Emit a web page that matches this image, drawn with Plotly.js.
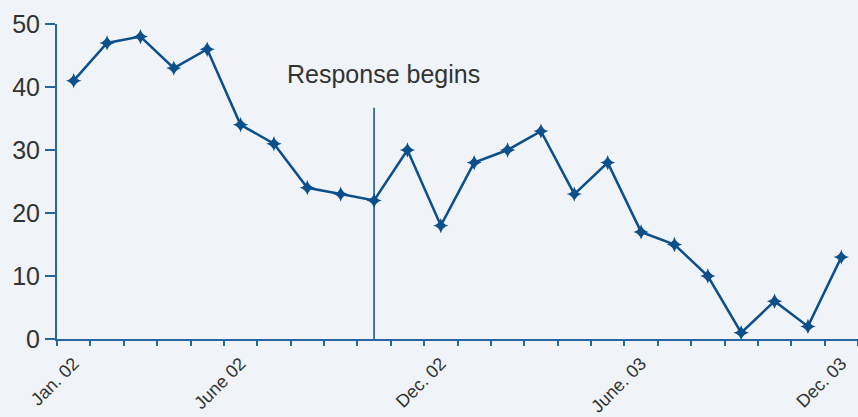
<!DOCTYPE html>
<html>
<head>
<meta charset="utf-8">
<script src="https://cdn.plot.ly/plotly-3.0.1.min.js"></script>
<style>html,body{margin:0;padding:0;background:#f0f4f9;}#chart{width:858px;height:417px;}</style>
</head>
<body>
<div id="chart"></div>
<script>
const months = ['Jan. 02','Feb. 02','Mar. 02','Apr. 02','May 02','June 02','July 02','Aug. 02','Sep. 02','Oct. 02','Nov. 02','Dec. 02',
                'Jan. 03','Feb. 03','Mar. 03','Apr. 03','May 03','June. 03','July 03','Aug. 03','Sep. 03','Oct. 03','Nov. 03','Dec. 03'];
const values = [41,47,48,43,46,34,31,24,23,22,30,18,28,30,33,23,28,17,15,10,1,6,2,13];
const labeledMonths = ['Jan. 02','June 02','Dec. 02','June. 03','Dec. 03'];
const yTicks = [0,10,20,30,40,50];
const responseMonth = 'Oct. 02';
const responseLabel = 'Response begins';
const responseLineTop = 36.7;
const responseLabelY = 42;

const xIdx = months.map((m,i)=>i);
const boundaries = months.map((m,i)=>i-0.5).concat([months.length-0.5]);
const respIdx = months.indexOf(responseMonth);

const blue = '#0c4f8a';
const axisBlue = '#2667a0';
const font = 'Liberation Sans Narrow, Liberation Sans, Arial, sans-serif';

const trace = {
  x: xIdx, y: values, type: 'scatter', mode: 'lines+markers',
  line: {color: blue, width: 2.5},
  marker: {symbol: 'star-diamond', size: 11, color: blue},
  hoverinfo: 'skip'
};

const layout = {
  width: 858, height: 417,
  margin: {l: 57, r: 0, t: 24, b: 78},
  paper_bgcolor: '#f0f4f9', plot_bgcolor: '#f0f4f9',
  showlegend: false,
  font: {family: font, color: '#333333'},
  xaxis: {
    range: [-0.5, months.length - 0.5],
    tickmode: 'array',
    tickvals: labeledMonths.map(m => months.indexOf(m)),
    ticktext: labeledMonths,
    ticks: '', tickangle: -45, ticklabelstandoff: 5,
    tickfont: {size: 18, family: font, color: '#333333'},
    showline: true, linecolor: axisBlue, linewidth: 2,
    showgrid: false, zeroline: false,
    minor: {tickmode: 'array', tickvals: boundaries, ticks: 'outside', ticklen: 5, tickwidth: 2, tickcolor: axisBlue, showgrid: false}
  },
  yaxis: {
    range: [0, 50],
    tickmode: 'array', tickvals: yTicks,
    ticks: 'outside', ticklen: 10, tickwidth: 2, tickcolor: axisBlue,
    tickfont: {size: 25, family: font, color: '#333333'},
    showline: true, linecolor: axisBlue, linewidth: 2,
    showgrid: false, zeroline: false
  },
  shapes: [{
    type: 'line', xref: 'x', yref: 'y',
    x0: respIdx, x1: respIdx, y0: 0, y1: responseLineTop,
    line: {color: blue, width: 1.5}
  }],
  annotations: [{
    x: respIdx, y: responseLabelY, xref: 'x', yref: 'y',
    text: responseLabel, showarrow: false, xshift: 9,
    font: {size: 25, family: font, color: '#333333'}
  }]
};

Plotly.newPlot('chart', [trace], layout, {displayModeBar: false, staticPlot: true});
</script>
</body>
</html>
